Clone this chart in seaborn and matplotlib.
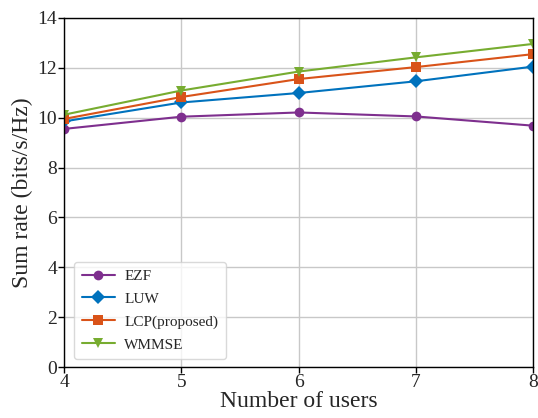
import seaborn as sns
import matplotlib.pyplot as plt
import pandas as pd

users = [4, 5, 6, 7, 8]
ezf = [9.55, 10.04, 10.21, 10.05, 9.68]
luw = [9.85, 10.61, 10.99, 11.46, 12.05]
lcp = [9.95, 10.83, 11.55, 12.03, 12.55]
wmmse = [10.12, 11.09, 11.85, 12.42, 12.96]

schemes = ["EZF", "LUW", "LCP(proposed)", "WMMSE"]
colors = ["#7E2F8E", "#0072BD", "#D95319", "#77AC30"]
markers = ["o", "D", "s", "v"]

df = pd.DataFrame({
    "users": users * 4,
    "rate": ezf + luw + lcp + wmmse,
    "scheme": [s for s in schemes for _ in users],
})

sns.set_style("whitegrid")
plt.rcParams["font.family"] = ["Liberation Serif", "DejaVu Serif"]

fig = plt.figure(figsize=(5.38, 4.18), dpi=100)
ax = fig.add_axes([0.119, 0.122, 0.872, 0.835])

sns.lineplot(data=df, x="users", y="rate", hue="scheme", style="scheme",
             palette=colors, markers=markers, dashes=False, markersize=7,
             linewidth=1.5, markeredgewidth=0, ax=ax)

ax.set_xlim(4, 8)
ax.set_ylim(0, 14)
ax.set_xticks(users)
ax.set_yticks(range(0, 15, 2))
ax.grid(True, color="#c8c8c8", linewidth=1)
for s in ax.spines.values():
    s.set_color("black")
    s.set_linewidth(1)
ax.tick_params(axis="both", labelsize=14, direction="out", length=4,
               width=1, color="black", left=True, bottom=True, pad=1)
ax.set_xlabel("Number of users", fontsize=17, labelpad=0)
ax.set_ylabel("Sum rate (bits/s/Hz)", fontsize=17, labelpad=3)

leg = ax.legend(loc="lower left", fontsize=11, frameon=True,
                bbox_to_anchor=(0.005, 0.0), handlelength=2.2,
                handletextpad=0.6, borderpad=0.5, labelspacing=0.6)
leg.get_frame().set_edgecolor("#d0d0d0")
leg.get_frame().set_linewidth(1)

fig.savefig("out.png", dpi=100)
